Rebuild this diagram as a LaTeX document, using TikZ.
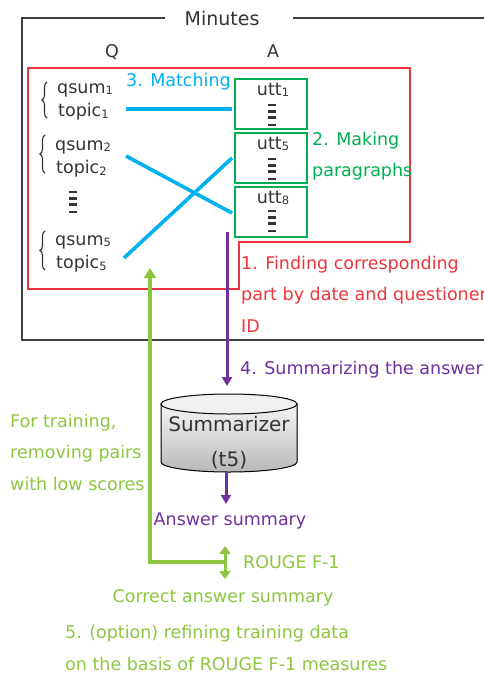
\documentclass[tikz,border=0pt]{standalone}
\usepackage{fontspec}
\setmainfont{DejaVu Sans}
\usetikzlibrary{arrows.meta,decorations.pathreplacing,calc}
\definecolor{cblue}{HTML}{00B0F0}
\definecolor{cgreen}{HTML}{00B050}
\definecolor{lgreen}{HTML}{8CC63E}
\definecolor{cred}{RGB}{238,52,60}
\definecolor{cpurple}{HTML}{7030A0}
\definecolor{ctext}{HTML}{333333}
\definecolor{cframe}{HTML}{404040}
\newcommand\subd[1]{\raisebox{-0.08em}{\fontsize{11.5}{11.5}\selectfont #1}}
\begin{document}
\begin{tikzpicture}[x=1pt,y=-1pt,inner sep=0pt,
  every node/.style={font=\fontsize{17.5}{31.5}\selectfont, text=ctext},
  ubox/.style={draw=cgreen, line width=2pt, minimum width=72pt, minimum height=50pt},
  bline/.style={draw=cblue, line width=3.6pt},
  parrow/.style={draw=cpurple, line width=3pt, -{Triangle[length=9pt,width=10pt]}},
  garrow/.style={draw=lgreen, line width=3.5pt},
  brc/.style={decorate, decoration={brace, amplitude=5pt}, draw=ctext, line width=1.1pt},
  vdots/.pic={
    \draw[line width=1.4pt] (-4,0) -- (4,0);
    \draw[line width=3pt] (-4,6.5) -- (4,6.5);
    \draw[line width=3pt] (-4,12.5) -- (4,12.5);
    \draw[line width=1.4pt] (-4,20) -- (4,20);
  }]
\useasboundingbox (0,0) rectangle (483,673);

% Minutes frame
\node (min) at (222,18) {\fontsize{19}{19}\selectfont Minutes};
\draw[cframe, line width=1.4pt] (165,18) -- (22,18) -- (22,340) -- (490,340);
\draw[cframe, line width=1.4pt] (293,18) -- (490,18);
\node (Q) at (112,52) {Q};
\node (A) at (273,51) {A};

% red region
\draw[cred, line width=1.3pt] (28,68) -- (410,68) -- (410,242) -- (239,242) -- (239,289) -- (28,289) -- cycle;

% Q side
\node[anchor=west] (q1) at (57,90) {qsum\subd{1}};
\node[anchor=west] (t1) at (58,112) {topic\subd{1}};
\node[anchor=west] (q2) at (55,147) {qsum\subd{2}};
\node[anchor=west] (t2) at (56,169) {topic\subd{2}};
\node[anchor=west] (q5) at (55,242) {qsum\subd{5}};
\node[anchor=west] (t5) at (56,264) {topic\subd{5}};
\draw[brc] (47,118) -- (47,82);
\draw[brc] (45,173) -- (45,135);
\draw[brc] (45,270) -- (45,231);
\pic[ctext] at (73,192) {vdots};

% A side
\node[ubox] (u1) at (271,104) {};
\node[ubox] (u5) at (271,158) {};
\node[ubox] (u8) at (271,212) {};
\node (u1t) at (273,90) {utt\subd{1}};
\node (u5t) at (273,144) {utt\subd{5}};
\node (u8t) at (273,198) {utt\subd{8}};
\pic[ctext] at (272,105) {vdots};
\pic[ctext] at (272,159) {vdots};
\pic[ctext] at (272,211) {vdots};

% matching lines
\coordinate (m1a) at (126,109);
\coordinate (m1b) at (232,109);
\coordinate (m2a) at (126,156);
\coordinate (m2b) at (232,213);
\coordinate (m3a) at (124,258);
\coordinate (m3b) at (232,158);
\draw[bline] (m1a) -- (m1b);
\draw[bline] (m2a) -- (m2b);
\draw[bline] (m3a) -- (m3b);
\node[anchor=west, text=cblue] (match) at (126,82) {3. Matching};

\node[anchor=west, text=cgreen, align=left] (mk) at (312,156) {2. Making\\paragraphs};

\node[anchor=west, text=cred, align=left] (find) at (241,294) {1. Finding corresponding\\part by date and questioner\\ID};

% summarizer
\coordinate (p1s) at (227,232);
\coordinate (p1e) at (227,386);
\draw[parrow] (p1s) -- (p1e);
\node[anchor=west, text=cpurple] (sumans) at (240,370) {4. Summarizing the answer};

\fill[top color=gray!8, bottom color=gray!55, draw=black, line width=1pt]
  (161,404) -- (161,462) arc[start angle=180, end angle=0, x radius=68, y radius=10] -- (297,404) -- cycle;
\fill[gray!12, draw=black, line width=1pt] (229,404) ellipse[x radius=68, y radius=10];
\node (summ) at (229,442) {};
\node[align=center, font=\fontsize{20}{35}\selectfont] (summt) at (229,443) {Summarizer\\(t5)};

\coordinate (p2s) at (226,472);
\coordinate (p2e) at (226,504);
\draw[parrow] (p2s) -- (p2e);
\node[text=cpurple] (ans) at (230,521) {Answer summary};

% green feedback
\coordinate (g0) at (225,562);
\coordinate (gc) at (150,562);
\coordinate (gtop) at (150,268);
\draw[garrow, -{Triangle[length=10pt,width=12pt]}] (g0) -- (gc) -- (gtop);
\coordinate (r1) at (225,546);
\coordinate (r2) at (225,579);
\draw[draw=lgreen, line width=3pt, {Triangle[length=8pt,width=11pt]}-{Triangle[length=8pt,width=11pt]}] (r1) -- (r2);
\node[anchor=west, text=lgreen] (rouge) at (243,562) {ROUGE F-1};
\node[text=lgreen] (corr) at (223,598) {Correct answer summary};
\node[anchor=west, text=lgreen, align=left] (opt) at (65,648) {5. (option) refining training data\\on the basis of ROUGE F-1 measures};
\node[anchor=west, text=lgreen, align=left] (ft) at (10,452) {For training,\\removing pairs\\with low scores};
\end{tikzpicture}
\end{document}
